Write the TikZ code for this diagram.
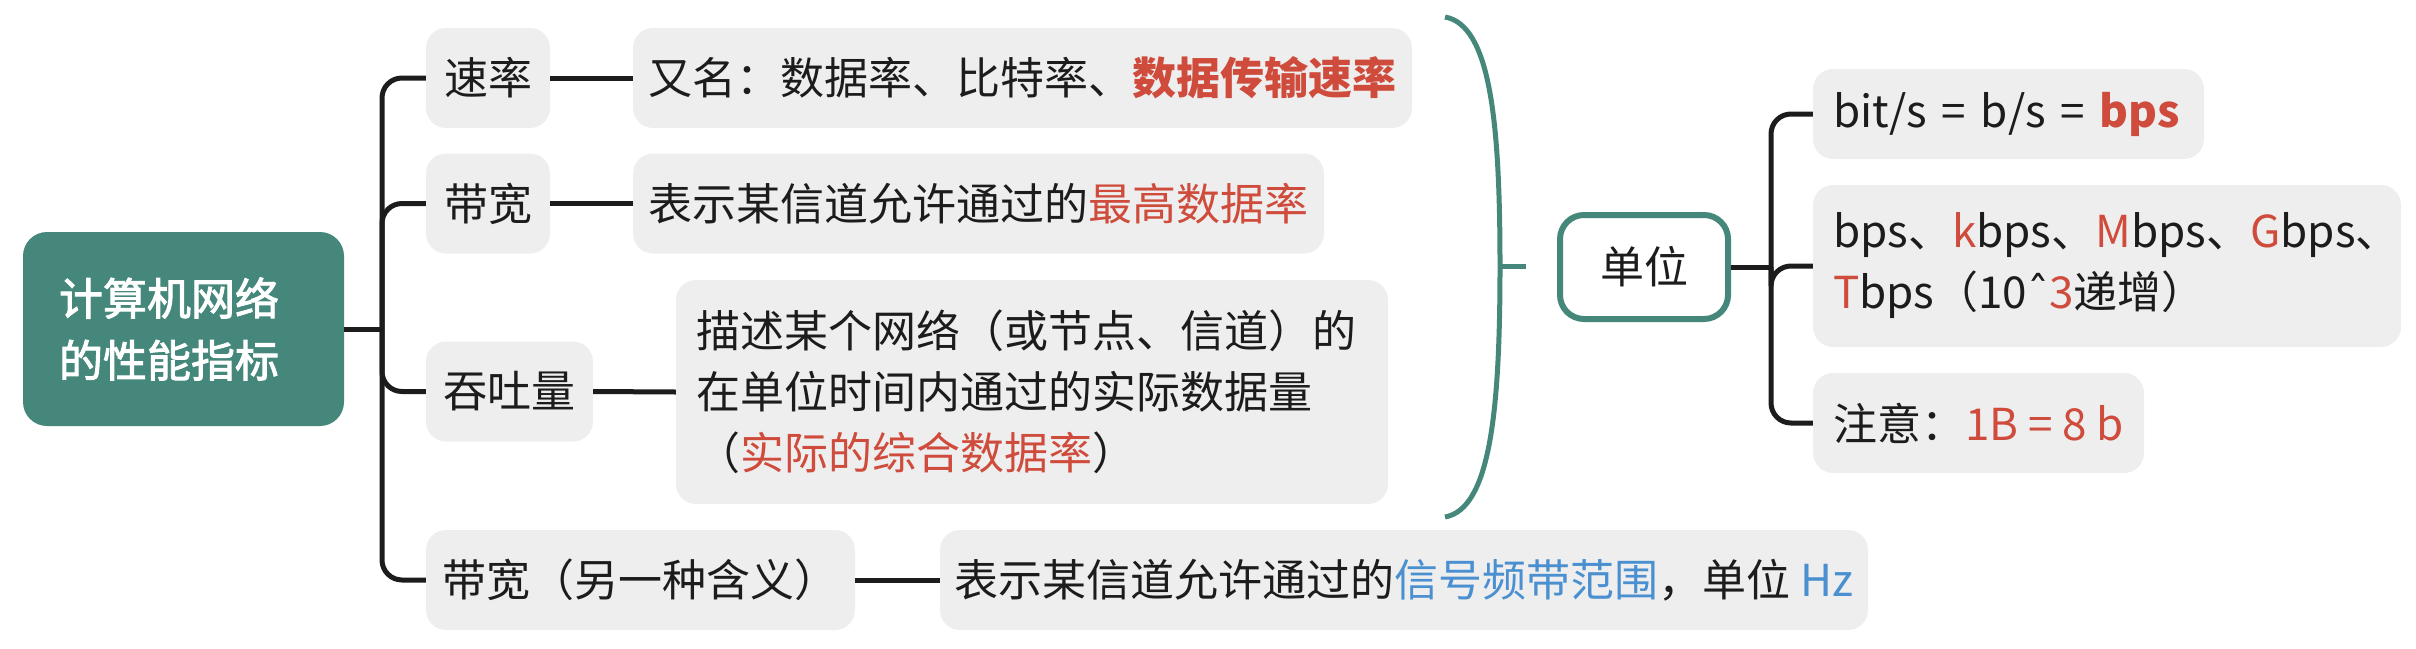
\documentclass[tikz,border=0pt]{standalone}
\usepackage{fontspec}
\setmainfont{Noto Sans CJK SC}
\newfontfamily\medfont{Noto Sans CJK SC}[FakeBold=2.2]
\newfontfamily\dvsfont{DejaVu Sans}
\definecolor{mmteal}{HTML}{45877A}
\definecolor{boxgray}{HTML}{EEEEEE}
\definecolor{ink}{HTML}{1C1C1C}
\definecolor{hred}{HTML}{CF4B3C}
\definecolor{hblue}{HTML}{4A90D0}
\newcommand{\redtxt}[1]{\textcolor{hred}{#1}}
\newcommand{\bluetxt}[1]{\textcolor{hblue}{#1}}
\begin{document}
\begin{tikzpicture}[x=1pt,y=-1pt,
  every node/.style={font=\fontsize{44}{61}\selectfont, text=ink},
  box/.style={fill=boxgray, rounded corners=20pt, inner sep=0pt, align=center},
  mlbox/.style={fill=boxgray, rounded corners=20pt, inner xsep=20pt, inner ysep=0pt, align=left},
  conn/.style={draw=ink, line width=5pt},
  tconn/.style={draw=mmteal, line width=5pt}]
\useasboundingbox (0,0) rectangle (2416,648);

% root
\node[fill=mmteal, rounded corners=24pt, text=white, minimum height=194pt,
      text width=249pt, align=left, inner xsep=36pt, inner ysep=0pt,
      font=\fontsize{44}{62}\medfont] (root) at (183.5,329) {计算机网络\\的性能指标};

% level 1
\node[box, minimum width=124pt, minimum height=100pt] (s1) at (488,78) {速率};
\node[box, minimum width=124pt, minimum height=100pt] (s2) at (488,203.5) {带宽};
\node[box, minimum width=167pt, minimum height=100pt] (s3) at (509.5,391.5) {吞吐量};
\node[box, minimum width=429pt, minimum height=100pt] (s4) at (640.5,580) {带宽（另一种含义）};

% level 2
\node[box, minimum width=779pt, minimum height=100pt] (t1) at (1022.5,78) {又名：数据率、比特率、\redtxt{\bfseries 数据传输速率}};
\node[box, minimum width=691pt, minimum height=100pt] (t2) at (978.5,203.5) {表示某信道允许通过的\redtxt{最高数据率}};
\node[mlbox, minimum height=224pt, text width=672pt] (t3) at (1032,392) {描述某个网络（或节点、信道）的\\在单位时间内通过的实际数据量\\（\redtxt{实际的综合数据率}）};
\node[box, minimum width=928pt, minimum height=100pt] (t4) at (1404,580) {表示某信道允许通过的\bluetxt{信号频带范围}，单位 \bluetxt{Hz}};

% junctions
\coordinate (j1) at (382,329);
\draw[conn] (root.east) -- (j1);
\foreach \c in {s1,s2,s3,s4} {
  \draw[conn, rounded corners=20pt] (j1) |- (\c.west);
}
\draw[conn] (s1.east) -- (t1.west);
\draw[conn] (s2.east) -- (t2.west);
\draw[conn] (s3.east) -- (t3.west);
\draw[conn] (s4.east) -- (t4.west);

% summary bracket
\coordinate (bktop) at (1445,17);
\coordinate (bkmid) at (1500,266);
\coordinate (bkbot) at (1445,517);
\coordinate (bkend) at (1526,266);
\draw[tconn] (bktop) .. controls (1490,25) and (1500,120) .. (bkmid) .. controls (1500,412) and (1490,509) .. (bkbot);
\draw[tconn] (bkmid) -- (bkend);

% unit node
\node[draw=mmteal, line width=6pt, fill=white, rounded corners=24pt,
      minimum width=168pt, minimum height=104pt, inner sep=0pt] (unit) at (1644,267) {单位};

% unit children
\node[mlbox, minimum height=90pt, text width=351pt] (u1) at (2008.5,114) {bit/s = b/s = \redtxt{\bfseries bps}};
\node[mlbox, minimum height=162pt, text width=548pt] (u2) at (2107,266) {bps、\redtxt{k}bps、\redtxt{M}bps、\redtxt{G}bps、\\\redtxt{T}bps（10{\dvsfont ˆ}\redtxt{3}递增）};
\node[box, minimum width=331pt, minimum height=100pt] (u3) at (1978.5,423) {注意：\redtxt{1B = 8 b}};

\coordinate (j2) at (1771,267);
\draw[conn] (unit.east) -- (j2);
\foreach \c in {u1,u2,u3} {
  \draw[conn, rounded corners=20pt] (j2) |- (\c.west);
}
\end{tikzpicture}
\end{document}
